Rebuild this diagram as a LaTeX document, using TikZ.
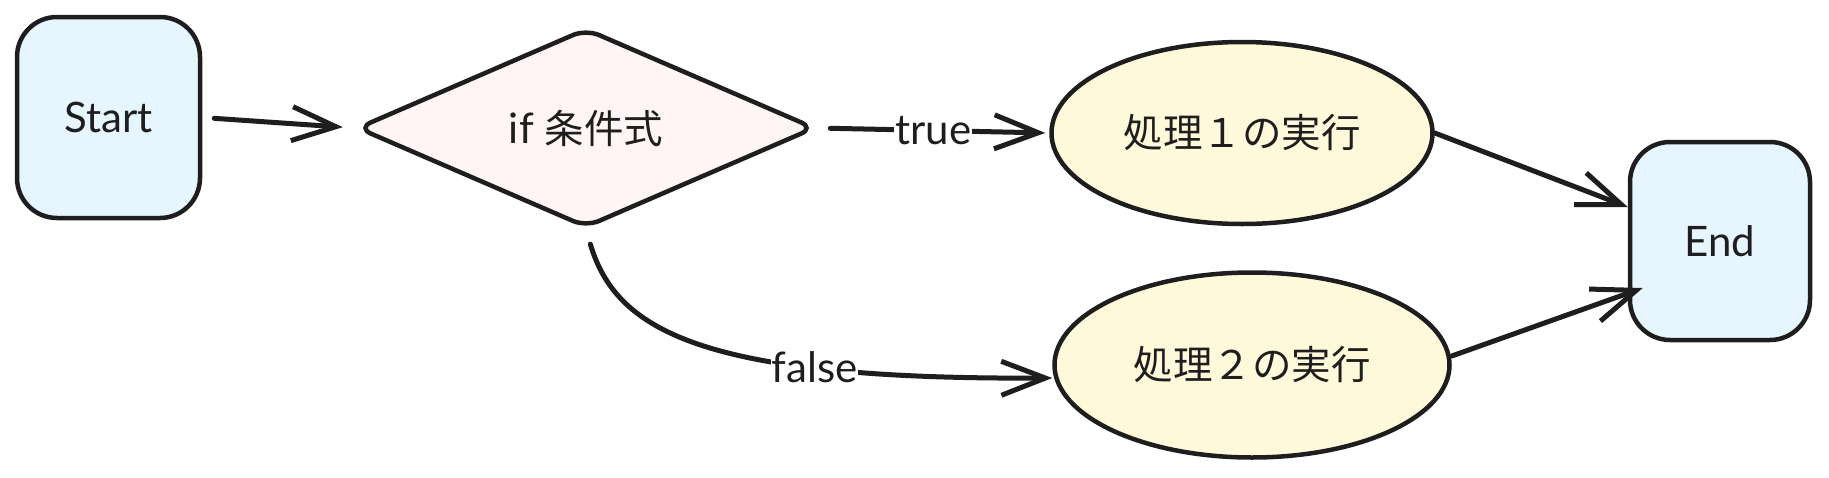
\documentclass[tikz,border=0pt]{standalone}
\usepackage{fontspec}
\setmainfont{Lato}
\newfontfamily\jp{Noto Sans CJK JP}
\usetikzlibrary{shapes.geometric,arrows.meta}
\definecolor{ink}{HTML}{1E1E1E}
\definecolor{bluefill}{HTML}{E7F5FF}
\definecolor{pinkfill}{HTML}{FFF5F5}
\definecolor{yelfill}{HTML}{FFF9DB}
\begin{document}
\begin{tikzpicture}[x=1pt,y=-1pt,
  base/.style={draw=ink, line width=4.5pt, text=ink, inner sep=0pt, font=\fontsize{42}{48}\selectfont},
  term/.style={base, rectangle, rounded corners=40pt, fill=bluefill},
  decision/.style={base, diamond, fill=pinkfill, rounded corners=14pt},
  proc/.style={base, ellipse, fill=yelfill, font=\jp\fontsize{39.5}{46}\selectfont},
  conn/.style={draw=ink, line width=5pt, line cap=round,
    -{Straight Barb[length=44pt,width=34pt]}},
  lbl/.style={fill=white, text=ink, inner sep=1pt, font=\fontsize{42}{48}\selectfont}]
\useasboundingbox (0,0) rectangle (1829,477);
\fill[white] (0,0) rectangle (1829,477);
\node[term, minimum width=183pt, minimum height=201pt] (start) at (108.5,117.5) {Start};
\node[decision, minimum width=458pt, minimum height=199pt] (dec) at (586,128) {if {\jp\fontsize{39.5}{46}\selectfont 条件式}};
\node[proc, minimum width=381pt, minimum height=182pt] (p1) at (1242,133) {処理１の実行};
\node[proc, minimum width=395pt, minimum height=185pt] (p2) at (1252,365) {処理２の実行};
\node[term, minimum width=180pt, minimum height=198pt] (endn) at (1720,241) {End};
\draw[conn, shorten <=12pt, shorten >=12pt] (start.east) -- (dec.west);
\draw[conn, shorten <=13pt, shorten >=4pt] (dec.east) -- node[lbl] (lt) {true} (p1.west);
\draw[conn, shorten <=15pt] (dec.south) .. controls +(30,100) and +(-353,2) .. node[lbl, pos=0.72] (lf) {false} ([yshift=-13pt]p2.west);
\draw[conn] (p1.east) -- ([yshift=34pt]endn.west);
\draw[conn] ([yshift=9pt]p2.east) -- ([yshift=-47pt, xshift=15pt]endn.west);
\end{tikzpicture}
\end{document}
